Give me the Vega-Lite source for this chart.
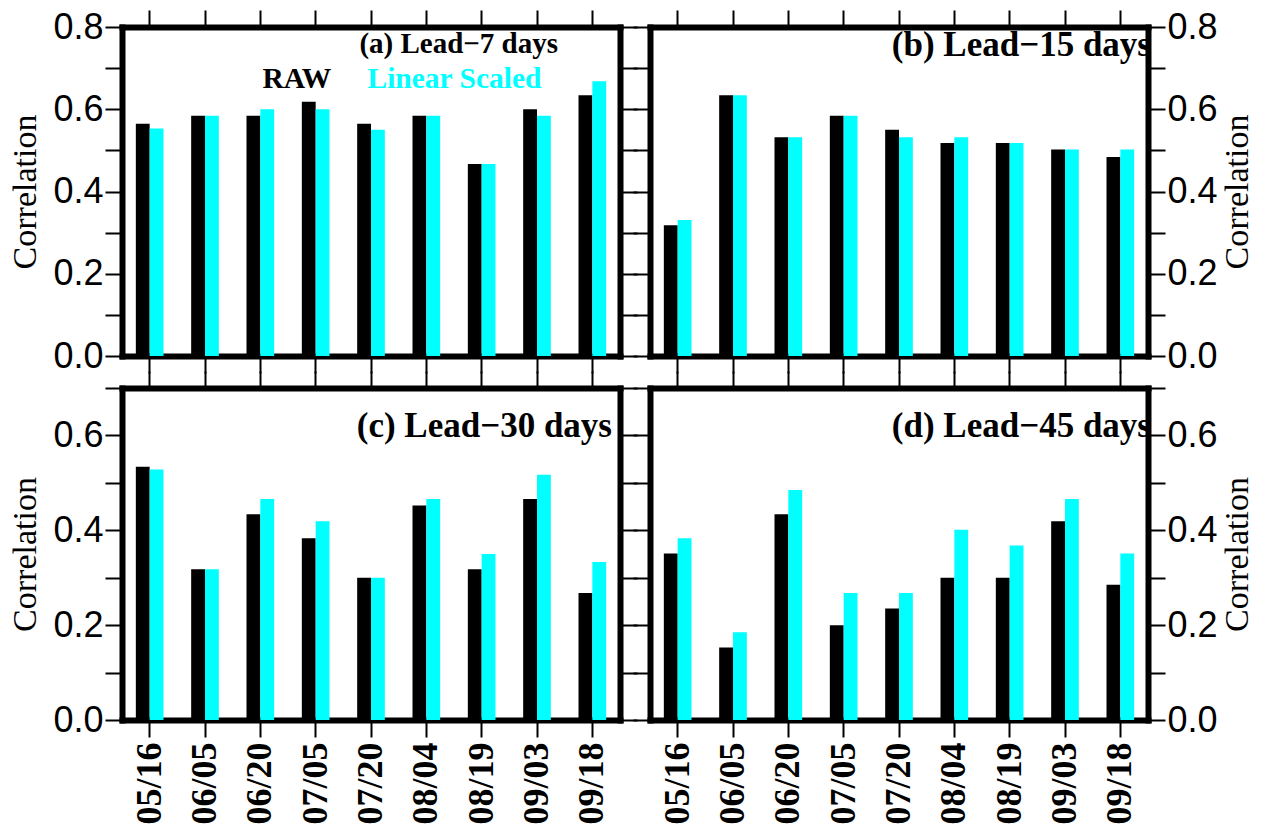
{
  "$schema": "https://vega.github.io/schema/vega-lite/v6.json",
  "padding": {"left": 8, "top": 9, "right": 5, "bottom": 0},
  "background": "white",
  "data": {"values": [
    {"panel": "a", "date": "05/16", "series": "RAW", "value": 0.565},
    {"panel": "a", "date": "06/05", "series": "RAW", "value": 0.584},
    {"panel": "a", "date": "06/20", "series": "RAW", "value": 0.584},
    {"panel": "a", "date": "07/05", "series": "RAW", "value": 0.618},
    {"panel": "a", "date": "07/20", "series": "RAW", "value": 0.565},
    {"panel": "a", "date": "08/04", "series": "RAW", "value": 0.584},
    {"panel": "a", "date": "08/19", "series": "RAW", "value": 0.467},
    {"panel": "a", "date": "09/03", "series": "RAW", "value": 0.600},
    {"panel": "a", "date": "09/18", "series": "RAW", "value": 0.634},
    {"panel": "a", "date": "05/16", "series": "Linear Scaled", "value": 0.553},
    {"panel": "a", "date": "06/05", "series": "Linear Scaled", "value": 0.584},
    {"panel": "a", "date": "06/20", "series": "Linear Scaled", "value": 0.600},
    {"panel": "a", "date": "07/05", "series": "Linear Scaled", "value": 0.600},
    {"panel": "a", "date": "07/20", "series": "Linear Scaled", "value": 0.550},
    {"panel": "a", "date": "08/04", "series": "Linear Scaled", "value": 0.584},
    {"panel": "a", "date": "08/19", "series": "Linear Scaled", "value": 0.467},
    {"panel": "a", "date": "09/03", "series": "Linear Scaled", "value": 0.584},
    {"panel": "a", "date": "09/18", "series": "Linear Scaled", "value": 0.668},
    {"panel": "b", "date": "05/16", "series": "RAW", "value": 0.318},
    {"panel": "b", "date": "06/05", "series": "RAW", "value": 0.634},
    {"panel": "b", "date": "06/20", "series": "RAW", "value": 0.532},
    {"panel": "b", "date": "07/05", "series": "RAW", "value": 0.584},
    {"panel": "b", "date": "07/20", "series": "RAW", "value": 0.550},
    {"panel": "b", "date": "08/04", "series": "RAW", "value": 0.518},
    {"panel": "b", "date": "08/19", "series": "RAW", "value": 0.518},
    {"panel": "b", "date": "09/03", "series": "RAW", "value": 0.502},
    {"panel": "b", "date": "09/18", "series": "RAW", "value": 0.484},
    {"panel": "b", "date": "05/16", "series": "Linear Scaled", "value": 0.331},
    {"panel": "b", "date": "06/05", "series": "Linear Scaled", "value": 0.634},
    {"panel": "b", "date": "06/20", "series": "Linear Scaled", "value": 0.532},
    {"panel": "b", "date": "07/05", "series": "Linear Scaled", "value": 0.584},
    {"panel": "b", "date": "07/20", "series": "Linear Scaled", "value": 0.532},
    {"panel": "b", "date": "08/04", "series": "Linear Scaled", "value": 0.532},
    {"panel": "b", "date": "08/19", "series": "Linear Scaled", "value": 0.518},
    {"panel": "b", "date": "09/03", "series": "Linear Scaled", "value": 0.502},
    {"panel": "b", "date": "09/18", "series": "Linear Scaled", "value": 0.502},
    {"panel": "c", "date": "05/16", "series": "RAW", "value": 0.534},
    {"panel": "c", "date": "06/05", "series": "RAW", "value": 0.318},
    {"panel": "c", "date": "06/20", "series": "RAW", "value": 0.434},
    {"panel": "c", "date": "07/05", "series": "RAW", "value": 0.383},
    {"panel": "c", "date": "07/20", "series": "RAW", "value": 0.300},
    {"panel": "c", "date": "08/04", "series": "RAW", "value": 0.452},
    {"panel": "c", "date": "08/19", "series": "RAW", "value": 0.318},
    {"panel": "c", "date": "09/03", "series": "RAW", "value": 0.466},
    {"panel": "c", "date": "09/18", "series": "RAW", "value": 0.268},
    {"panel": "c", "date": "05/16", "series": "Linear Scaled", "value": 0.528},
    {"panel": "c", "date": "06/05", "series": "Linear Scaled", "value": 0.318},
    {"panel": "c", "date": "06/20", "series": "Linear Scaled", "value": 0.466},
    {"panel": "c", "date": "07/05", "series": "Linear Scaled", "value": 0.419},
    {"panel": "c", "date": "07/20", "series": "Linear Scaled", "value": 0.300},
    {"panel": "c", "date": "08/04", "series": "Linear Scaled", "value": 0.466},
    {"panel": "c", "date": "08/19", "series": "Linear Scaled", "value": 0.350},
    {"panel": "c", "date": "09/03", "series": "Linear Scaled", "value": 0.517},
    {"panel": "c", "date": "09/18", "series": "Linear Scaled", "value": 0.333},
    {"panel": "d", "date": "05/16", "series": "RAW", "value": 0.351},
    {"panel": "d", "date": "06/05", "series": "RAW", "value": 0.153},
    {"panel": "d", "date": "06/20", "series": "RAW", "value": 0.434},
    {"panel": "d", "date": "07/05", "series": "RAW", "value": 0.200},
    {"panel": "d", "date": "07/20", "series": "RAW", "value": 0.235},
    {"panel": "d", "date": "08/04", "series": "RAW", "value": 0.300},
    {"panel": "d", "date": "08/19", "series": "RAW", "value": 0.300},
    {"panel": "d", "date": "09/03", "series": "RAW", "value": 0.419},
    {"panel": "d", "date": "09/18", "series": "RAW", "value": 0.285},
    {"panel": "d", "date": "05/16", "series": "Linear Scaled", "value": 0.383},
    {"panel": "d", "date": "06/05", "series": "Linear Scaled", "value": 0.185},
    {"panel": "d", "date": "06/20", "series": "Linear Scaled", "value": 0.485},
    {"panel": "d", "date": "07/05", "series": "Linear Scaled", "value": 0.268},
    {"panel": "d", "date": "07/20", "series": "Linear Scaled", "value": 0.268},
    {"panel": "d", "date": "08/04", "series": "Linear Scaled", "value": 0.401},
    {"panel": "d", "date": "08/19", "series": "Linear Scaled", "value": 0.368},
    {"panel": "d", "date": "09/03", "series": "Linear Scaled", "value": 0.466},
    {"panel": "d", "date": "09/18", "series": "Linear Scaled", "value": 0.351}
  ]},
  "columns": 2,
  "spacing": {"row": 32, "column": 30},
  "bounds": "flush",
  "resolve": {"scale": {"color": "independent"}, "legend": {"color": "independent"}},
  "concat": [
    {
      "width": 498, "height": 329,
      "transform": [{"filter": "datum.panel === 'a'"}],
      "title": {"text": "(a) Lead−7 days", "frame": "group", "anchor": "end", "offset": -50, "dx": -62, "fontSize": 29},
      "layer": [
        {
          "mark": {"type": "bar"},
          "encoding": {
            "x": {"field": "date", "type": "nominal", "scale": {"domain": ["05/16","06/05","06/20","07/05","07/20","08/04","08/19","09/03","09/18"], "paddingInner": 0, "paddingOuter": 0}, "axis": {"orient": "bottom", "labels": false, "title": null}},
            "xOffset": {"field": "series", "type": "nominal", "scale": {"domain": ["RAW", "Linear Scaled"], "paddingInner": 0, "paddingOuter": 1.75}},
            "y": {"field": "value", "type": "quantitative", "stack": null, "scale": {"domain": [0, 0.8], "nice": false, "zero": true}, "axis": {"orient": "left", "values": [0,0.1,0.2,0.3,0.4,0.5,0.6,0.7,0.8], "labelExpr": "round(datum.value*10) % 2 === 0 ? format(datum.value, '.1f') : ''", "title": "Correlation"}},
            "color": {"field": "series", "type": "nominal", "scale": {"domain": ["RAW", "Linear Scaled"], "range": ["#000000", "#00ffff"]},
              "legend": {"orient": "none", "legendX": 111, "legendY": 37, "direction": "horizontal", "title": null, "symbolSize": 0, "symbolOpacity": 0, "symbolStrokeWidth": 0, "labelOffset": 0, "columnPadding": 6, "labelFont": "Liberation Serif", "labelFontWeight": "bold", "labelFontSize": 29.5, "labelLimit": 400,
                "encode": {"labels": {"update": {"fill": {"signal": "datum.value === 'RAW' ? '#000000' : '#00ffff'"}}}}}}
          }
        },
        {
          "mark": {"type": "bar", "opacity": 0},
          "encoding": {
            "x": {"field": "date", "type": "nominal", "scale": {"domain": ["05/16","06/05","06/20","07/05","07/20","08/04","08/19","09/03","09/18"], "paddingInner": 0, "paddingOuter": 0}, "axis": {"orient": "top", "labels": false, "title": null}},
            "y": {"field": "value", "type": "quantitative", "stack": null, "scale": {"domain": [0, 0.8], "nice": false, "zero": true}, "axis": {"orient": "right", "values": [0,0.1,0.2,0.3,0.4,0.5,0.6,0.7,0.8], "labels": false, "title": null}}
          }
        }
      ],
      "resolve": {"axis": {"x": "independent", "y": "independent"}}
    },
    {
      "width": 498, "height": 329,
      "transform": [{"filter": "datum.panel === 'b'"}],
      "title": {"text": "(b) Lead−15 days", "frame": "group", "anchor": "end", "offset": -54, "dx": 3, "fontSize": 35},
      "layer": [
        {
          "mark": {"type": "bar"},
          "encoding": {
            "x": {"field": "date", "type": "nominal", "scale": {"domain": ["05/16","06/05","06/20","07/05","07/20","08/04","08/19","09/03","09/18"], "paddingInner": 0, "paddingOuter": 0}, "axis": {"orient": "bottom", "labels": false, "title": null}},
            "xOffset": {"field": "series", "type": "nominal", "scale": {"domain": ["RAW", "Linear Scaled"], "paddingInner": 0, "paddingOuter": 1.75}},
            "y": {"field": "value", "type": "quantitative", "stack": null, "scale": {"domain": [0, 0.8], "nice": false, "zero": true}, "axis": {"orient": "right", "values": [0,0.1,0.2,0.3,0.4,0.5,0.6,0.7,0.8], "labelExpr": "round(datum.value*10) % 2 === 0 ? format(datum.value, '.1f') : ''", "title": "Correlation", "titleAngle": 270, "titleBaseline": "top", "titlePadding": 3}},
            "color": {"field": "series", "type": "nominal", "scale": {"domain": ["RAW", "Linear Scaled"], "range": ["#000000", "#00ffff"]}, "legend": null}
          }
        },
        {
          "mark": {"type": "bar", "opacity": 0},
          "encoding": {
            "x": {"field": "date", "type": "nominal", "scale": {"domain": ["05/16","06/05","06/20","07/05","07/20","08/04","08/19","09/03","09/18"], "paddingInner": 0, "paddingOuter": 0}, "axis": {"orient": "top", "labels": false, "title": null}},
            "y": {"field": "value", "type": "quantitative", "stack": null, "scale": {"domain": [0, 0.8], "nice": false, "zero": true}, "axis": {"orient": "left", "values": [0,0.1,0.2,0.3,0.4,0.5,0.6,0.7,0.8], "labels": false, "title": null}}
          }
        }
      ],
      "resolve": {"axis": {"x": "independent", "y": "independent"}}
    },
    {
      "width": 498, "height": 332,
      "transform": [{"filter": "datum.panel === 'c'"}],
      "title": {"text": "(c) Lead−30 days", "frame": "group", "anchor": "end", "offset": -74, "dx": -8, "fontSize": 35},
      "layer": [
        {
          "mark": {"type": "bar"},
          "encoding": {
            "x": {"field": "date", "type": "nominal", "scale": {"domain": ["05/16","06/05","06/20","07/05","07/20","08/04","08/19","09/03","09/18"], "paddingInner": 0, "paddingOuter": 0}, "axis": {"orient": "bottom", "title": null}},
            "xOffset": {"field": "series", "type": "nominal", "scale": {"domain": ["RAW", "Linear Scaled"], "paddingInner": 0, "paddingOuter": 1.75}},
            "y": {"field": "value", "type": "quantitative", "stack": null, "scale": {"domain": [0, 0.7], "nice": false, "zero": true}, "axis": {"orient": "left", "values": [0,0.1,0.2,0.3,0.4,0.5,0.6,0.7], "labelExpr": "round(datum.value*10) % 2 === 0 ? format(datum.value, '.1f') : ''", "title": "Correlation"}},
            "color": {"field": "series", "type": "nominal", "scale": {"domain": ["RAW", "Linear Scaled"], "range": ["#000000", "#00ffff"]}, "legend": null}
          }
        },
        {
          "mark": {"type": "bar", "opacity": 0},
          "encoding": {
            "x": {"field": "date", "type": "nominal", "scale": {"domain": ["05/16","06/05","06/20","07/05","07/20","08/04","08/19","09/03","09/18"], "paddingInner": 0, "paddingOuter": 0}, "axis": {"orient": "top", "labels": false, "title": null}},
            "y": {"field": "value", "type": "quantitative", "stack": null, "scale": {"domain": [0, 0.7], "nice": false, "zero": true}, "axis": {"orient": "right", "values": [0,0.1,0.2,0.3,0.4,0.5,0.6,0.7], "labels": false, "title": null}}
          }
        }
      ],
      "resolve": {"axis": {"x": "independent", "y": "independent"}}
    },
    {
      "width": 498, "height": 332,
      "transform": [{"filter": "datum.panel === 'd'"}],
      "title": {"text": "(d) Lead−45 days", "frame": "group", "anchor": "end", "offset": -74, "dx": 3, "fontSize": 35},
      "layer": [
        {
          "mark": {"type": "bar"},
          "encoding": {
            "x": {"field": "date", "type": "nominal", "scale": {"domain": ["05/16","06/05","06/20","07/05","07/20","08/04","08/19","09/03","09/18"], "paddingInner": 0, "paddingOuter": 0}, "axis": {"orient": "bottom", "title": null}},
            "xOffset": {"field": "series", "type": "nominal", "scale": {"domain": ["RAW", "Linear Scaled"], "paddingInner": 0, "paddingOuter": 1.75}},
            "y": {"field": "value", "type": "quantitative", "stack": null, "scale": {"domain": [0, 0.7], "nice": false, "zero": true}, "axis": {"orient": "right", "values": [0,0.1,0.2,0.3,0.4,0.5,0.6,0.7], "labelExpr": "round(datum.value*10) % 2 === 0 ? format(datum.value, '.1f') : ''", "title": "Correlation", "titleAngle": 270, "titleBaseline": "top", "titlePadding": 3}},
            "color": {"field": "series", "type": "nominal", "scale": {"domain": ["RAW", "Linear Scaled"], "range": ["#000000", "#00ffff"]}, "legend": null}
          }
        },
        {
          "mark": {"type": "bar", "opacity": 0},
          "encoding": {
            "x": {"field": "date", "type": "nominal", "scale": {"domain": ["05/16","06/05","06/20","07/05","07/20","08/04","08/19","09/03","09/18"], "paddingInner": 0, "paddingOuter": 0}, "axis": {"orient": "top", "labels": false, "title": null}},
            "y": {"field": "value", "type": "quantitative", "stack": null, "scale": {"domain": [0, 0.7], "nice": false, "zero": true}, "axis": {"orient": "left", "values": [0,0.1,0.2,0.3,0.4,0.5,0.6,0.7], "labels": false, "title": null}}
          }
        }
      ],
      "resolve": {"axis": {"x": "independent", "y": "independent"}}
    }
  ],
  "config": {
    "view": {"stroke": null},
    "title": {"font": "Liberation Serif", "fontWeight": "bold", "color": "#000000"},
    "axis": {
      "domainColor": "#000000", "domainWidth": 6, "domainCap": "square",
      "tickColor": "#000000", "tickWidth": 2, "tickSize": 17,
      "labelFont": "Liberation Sans", "labelFontSize": 36, "labelColor": "#000000", "labelPadding": 2,
      "titleFont": "Liberation Serif", "titleFontSize": 34, "titleFontWeight": "normal", "titleColor": "#000000", "titlePadding": 10,
      "grid": false, "zindex": 1, "labelOverlap": false, "labelFlush": false
    },
    "axisX": {"labelFont": "Liberation Serif", "labelFontWeight": "bold", "labelFontSize": 36, "labelAngle": -90, "labelPadding": 5}
  }
}
